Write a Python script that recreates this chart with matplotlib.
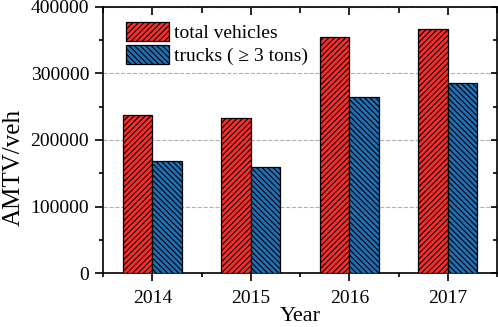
import matplotlib
matplotlib.use('Agg')
from matplotlib import pyplot as plt
from matplotlib.ticker import MultipleLocator
import numpy as np

years = ['2014', '2015', '2016', '2017']
total_vehicles = [238000, 233000, 355000, 367000]
trucks = [168500, 160000, 265000, 285000]

plt.rcParams['font.family'] = ['Liberation Serif', 'DejaVu Serif']
plt.rcParams['hatch.linewidth'] = 0.8

fig = plt.figure(figsize=(4.98, 3.27), dpi=100)
ax = fig.add_axes([0.207, 0.165, 0.791, 0.814])

x = np.arange(len(years))
bar_width = 0.3
ax.bar(x - bar_width / 2, total_vehicles, bar_width, color='#ff2a2a',
       edgecolor='black', linewidth=0.9, hatch='//////', label='total vehicles', zorder=3)
ax.bar(x + bar_width / 2, trucks, bar_width, color='#1f70b4',
       edgecolor='black', linewidth=0.9, hatch='\\\\\\\\\\\\', label='trucks ( \u2265 3 tons)', zorder=3)

ax.set_xlim(-0.5, 3.5)
ax.set_ylim(0, 400000)
ax.set_xticks(x)
ax.set_xticklabels(years)
ax.xaxis.set_minor_locator(MultipleLocator(0.5))
ax.yaxis.set_major_locator(MultipleLocator(100000))
ax.yaxis.set_minor_locator(MultipleLocator(50000))
ax.grid(axis='y', which='major', linestyle='--', color='#b0b0b0', linewidth=0.8, zorder=0)

ax.tick_params(which='both', labelsize=14, width=1.2)
ax.tick_params(which='major', direction='out', length=6, pad=4)
ax.tick_params(axis='x', which='major', pad=6)
ax.tick_params(which='minor', direction='out', length=3)
ax.tick_params(which='both', top=True, right=True)
for t in ax.xaxis.get_major_ticks():
    t.tick2line.set_marker(3)
    t.tick2line.set_markersize(6)
for t in ax.xaxis.get_minor_ticks():
    t.tick2line.set_marker(3)
    t.tick2line.set_markersize(4)
for t in ax.yaxis.get_major_ticks():
    t.tick2line.set_marker(0)
    t.tick2line.set_markersize(4)
for t in ax.yaxis.get_minor_ticks():
    t.tick2line.set_marker(0)
    t.tick2line.set_markersize(3)

for sp in ax.spines.values():
    sp.set_linewidth(1.2)

ax.set_xlabel('Year', fontsize=16, labelpad=0)
ax.set_ylabel('AMTV/veh', fontsize=18)
ax.yaxis.set_label_coords(-0.2, 0.395)

ax.legend(loc='upper left', frameon=False, fontsize=14,
          handlelength=2.2, handleheight=1.08, handletextpad=0.3,
          labelspacing=0.15, borderaxespad=0.0, bbox_to_anchor=(0.038, 0.971))

plt.savefig('out.png', dpi=100)
